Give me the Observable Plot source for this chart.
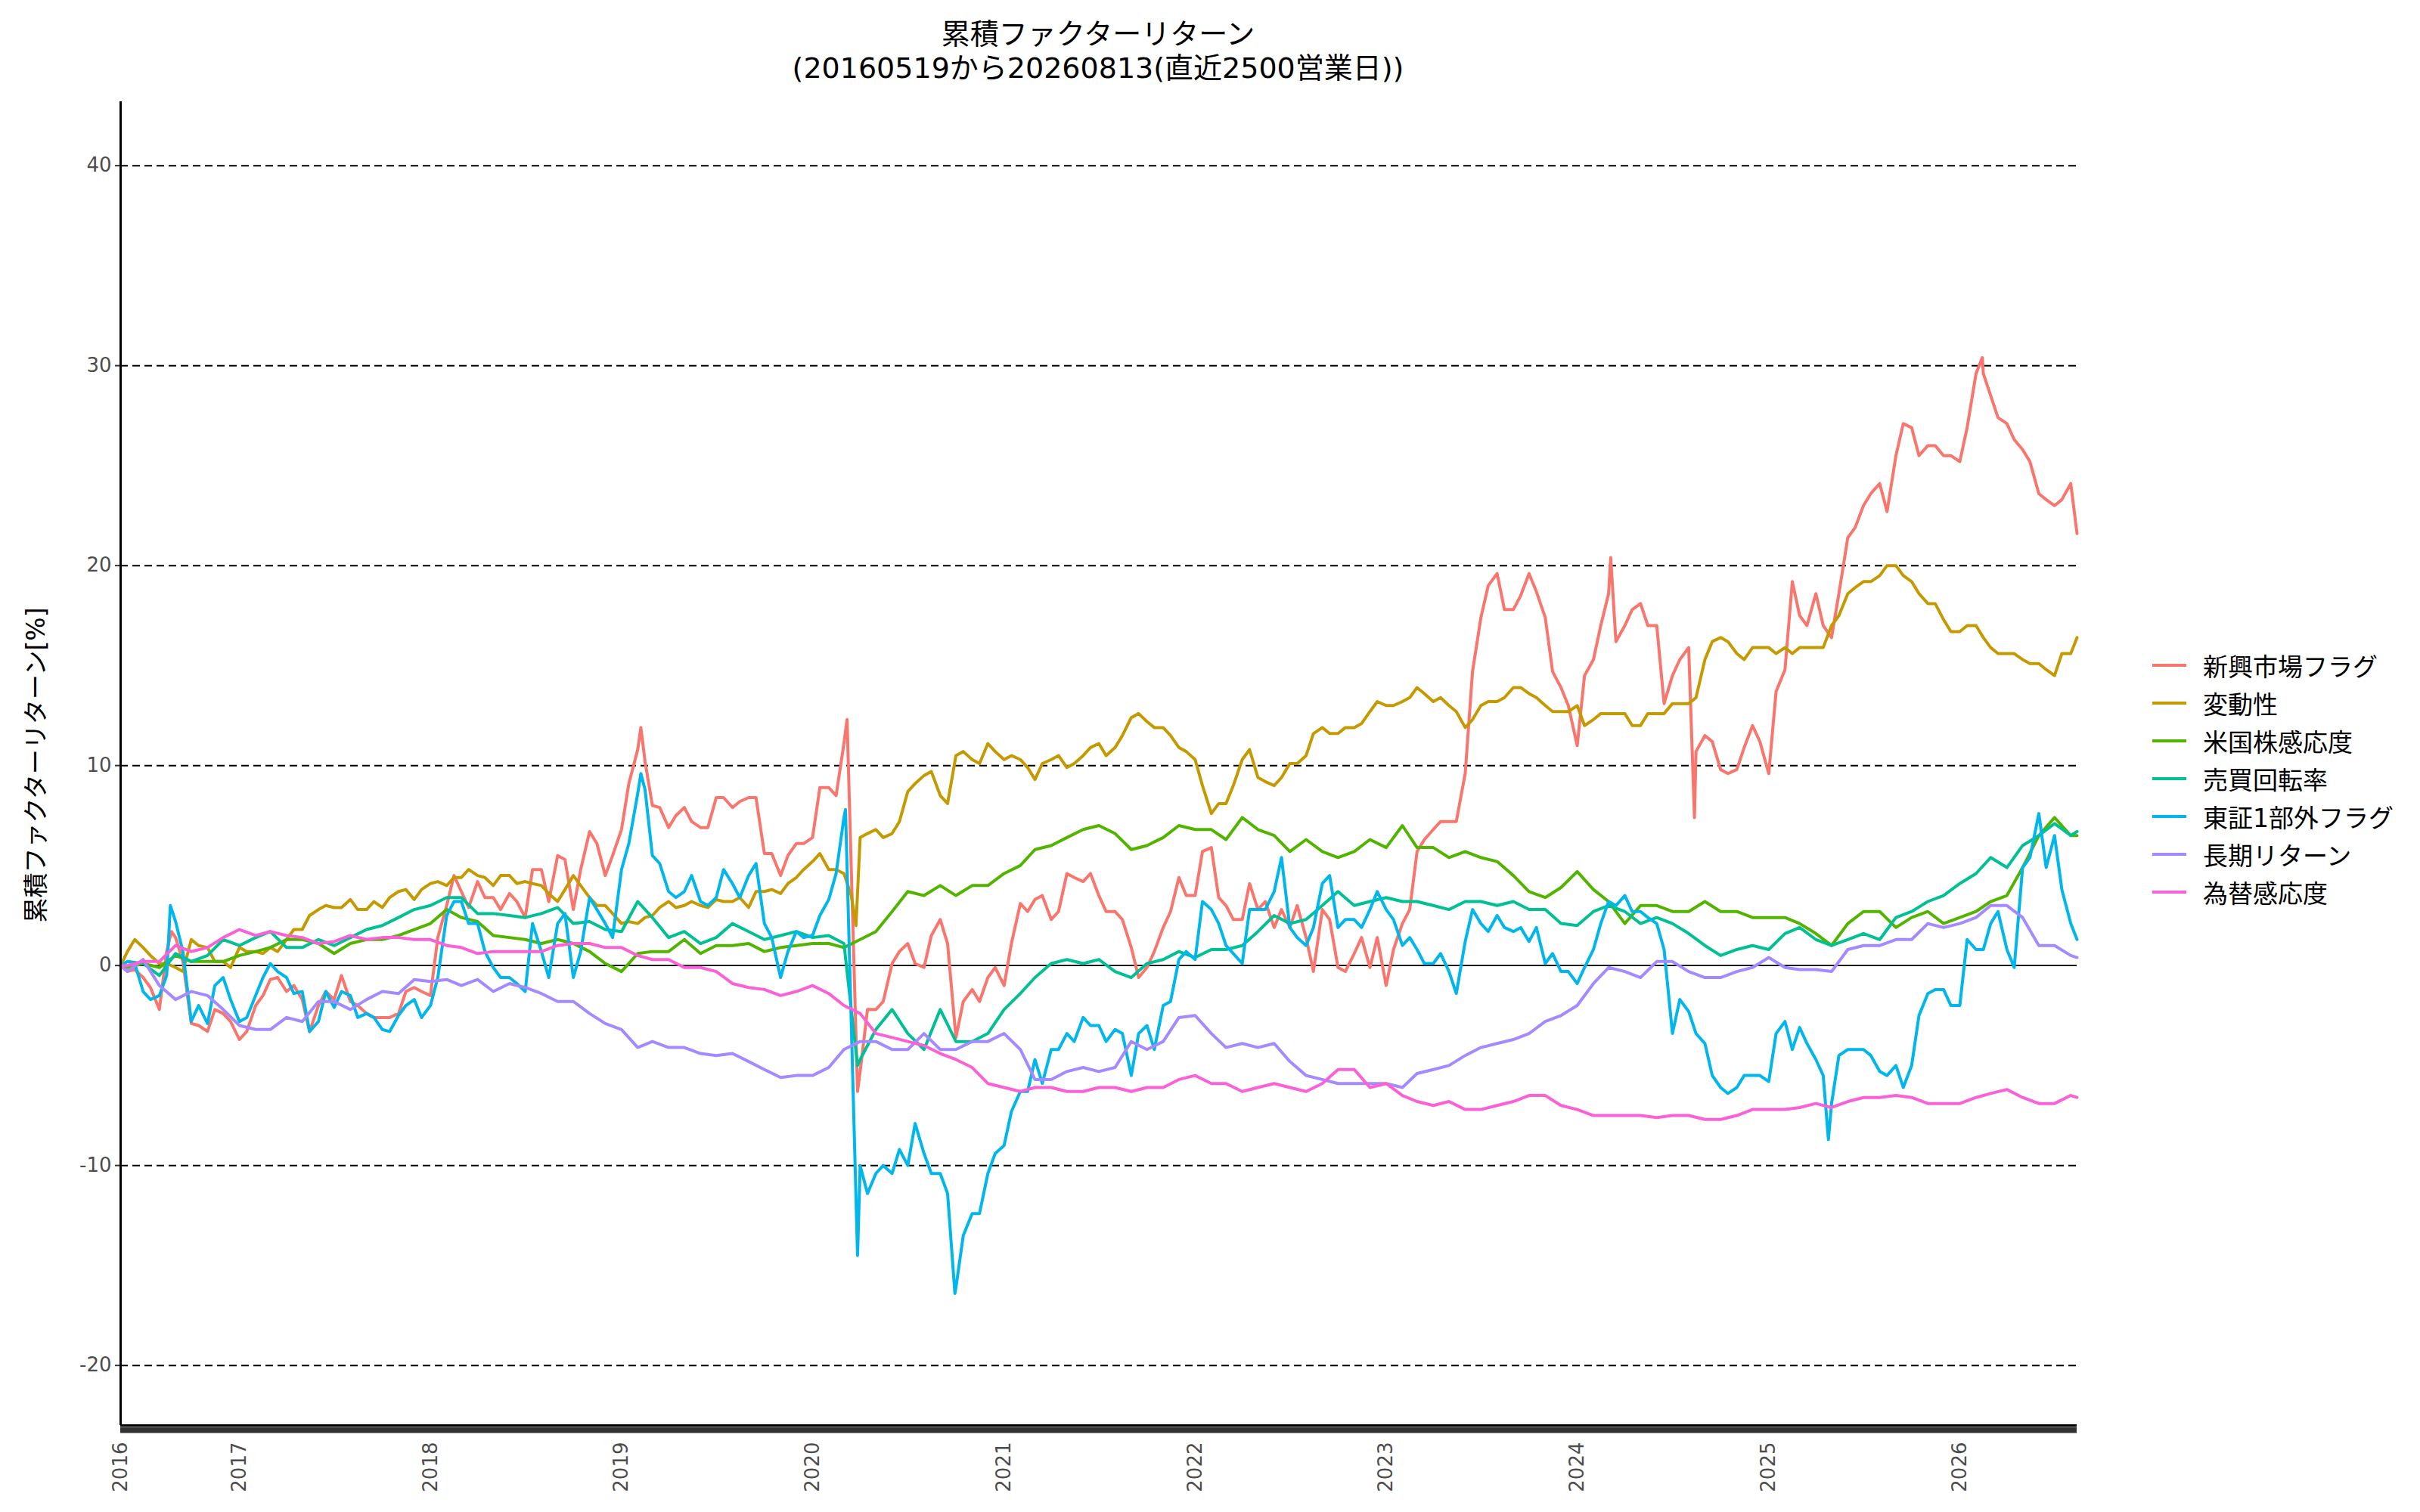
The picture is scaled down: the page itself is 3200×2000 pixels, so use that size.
<!DOCTYPE html>
<html>
<head>
<meta charset="utf-8">
<script src="https://cdn.jsdelivr.net/npm/d3@7"></script>
<script src="https://cdn.jsdelivr.net/npm/@observablehq/plot@0.6"></script>
<style>
  html, body { margin: 0; padding: 0; background: #ffffff; }
  #root { position: relative; width: 3200px; height: 2000px; background: #ffffff; overflow: hidden; }
  #title { position: absolute; left: 452px; width: 2000px; top: 23px; text-align: center; z-index: 2;
           font-family: "DejaVu Sans", "Noto Sans CJK JP", sans-serif; font-size: 38px; line-height: 45px; color: #000; }
  #ylabel { position: absolute; left: 45px; top: 1012px; transform: translate(-50%, -50%) rotate(-90deg); z-index: 2;
            white-space: nowrap; font-family: "DejaVu Sans", "Noto Sans CJK JP", sans-serif; font-size: 33px; color: #000; }
  #chart { position: absolute; left: 0; top: 120px; z-index: 1; }
  #legend { position: absolute; left: 2846px; top: 855px; z-index: 2; font-family: "DejaVu Sans", "Noto Sans CJK JP", sans-serif;
            font-size: 33px; color: #000; }
  .lrow { height: 50px; display: flex; align-items: center; }
  .lrow svg { margin-right: 22px; }
</style>
</head>
<body>
<div id="root">
  <div id="title"></div>
  <div id="ylabel"></div>
  <div id="chart"></div>
  <div id="legend"></div>
</div>
<script>
const titleLines = ["累積ファクターリターン", "(20160519から20260813(直近2500営業日))"];
const yAxisLabel = "累積ファクターリターン[%]";

const seriesNames = ["新興市場フラグ", "変動性", "米国株感応度", "売買回転率", "東証1部外フラグ", "長期リターン", "為替感応度"];
const seriesColors = ["#F8766D", "#C49A00", "#53B400", "#00C094", "#00B6EB", "#A58AFF", "#FB61D7"];

// month-start sampling dates
const dates = [
  "2016-05-19","2016-06-01","2016-07-01","2016-08-01","2016-09-01","2016-10-01","2016-11-01","2016-12-01",
  "2017-01-01","2017-02-01","2017-03-01","2017-04-01","2017-05-01","2017-06-01","2017-07-01","2017-08-01","2017-09-01","2017-10-01","2017-11-01","2017-12-01",
  "2018-01-01","2018-02-01","2018-03-01","2018-04-01","2018-05-01","2018-06-01","2018-07-01","2018-08-01","2018-09-01","2018-10-01","2018-11-01","2018-12-01",
  "2019-01-01","2019-02-01","2019-03-01","2019-04-01","2019-05-01","2019-06-01","2019-07-01","2019-08-01","2019-09-01","2019-10-01","2019-11-01","2019-12-01",
  "2020-01-01","2020-02-01","2020-03-01","2020-04-01","2020-05-01","2020-06-01","2020-07-01","2020-08-01","2020-09-01","2020-10-01","2020-11-01","2020-12-01",
  "2021-01-01","2021-02-01","2021-03-01","2021-04-01","2021-05-01","2021-06-01","2021-07-01","2021-08-01","2021-09-01","2021-10-01","2021-11-01","2021-12-01",
  "2022-01-01","2022-02-01","2022-03-01","2022-04-01","2022-05-01","2022-06-01","2022-07-01","2022-08-01","2022-09-01","2022-10-01","2022-11-01","2022-12-01",
  "2023-01-01","2023-02-01","2023-03-01","2023-04-01","2023-05-01","2023-06-01","2023-07-01","2023-08-01","2023-09-01","2023-10-01","2023-11-01","2023-12-01",
  "2024-01-01","2024-02-01","2024-03-01","2024-04-01","2024-05-01","2024-06-01","2024-07-01","2024-08-01","2024-09-01","2024-10-01","2024-11-01","2024-12-01",
  "2025-01-01","2025-02-01","2025-03-01","2025-04-01","2025-05-01","2025-06-01","2025-07-01","2025-08-01","2025-09-01","2025-10-01","2025-11-01","2025-12-01",
  "2026-01-01","2026-02-01","2026-03-01","2026-04-01","2026-05-01","2026-06-01","2026-07-01","2026-08-01","2026-08-13"
];

const emergingFlag = [
  0, -0.3, -0.6, -2.2, 1.4, -2.9, -3.3, -2.4,
  -3.7, -2.0, -0.7, -1.3, -1.7, -2.0, -1.7, -1.8, -2.4, -2.6, -2.4, -1.1,
  -1.5, 3.0, 3.7, 4.2, 3.4, 3.6, 2.4, 4.8, 5.5, 2.8, 6.7, 4.5,
  6.8, 10.8, 8.0, 6.9, 7.9, 6.9, 8.4, 7.9, 8.4, 5.6, 4.5, 6.1,
  6.4, 8.9, 11.1, -5.3, -2.2, 0.1, 1.1, -0.1, 2.3, -3.6, -1.2, -0.6,
  -1.0, 3.1, 3.3, 2.3, 4.6, 4.2, 3.5, 2.7, 0.9, -0.1, 1.9, 4.4,
  3.5, 5.9, 3.0, 2.3, 2.8, 1.9, 1.9, 1.4, 2.8, -0.1, 0.6, -0.1,
  -1.0, 2.1, 5.7, 6.8, 7.2, 9.6, 17.4, 19.6, 17.8, 19.6, 17.4, 13.9,
  11.0, 15.3, 18.6, 17.0, 18.1, 17.0, 14.5, 15.9, 11.5, 9.8, 9.8, 12.0,
  9.6, 14.8, 17.5, 18.6, 16.4, 21.4, 23.0, 24.1, 25.5, 26.9, 26.0, 25.5,
  25.2, 29.6, 28.5, 27.1, 25.8, 23.6, 23.0, 24.1, 21.6
];
const volatility = [
  0, 0.7, 0.9, 0.1, -0.1, 1.3, 0.9, 0.2,
  0.9, 0.7, 0.9, 1.3, 1.8, 2.8, 2.9, 3.3, 2.8, 2.9, 3.7, 3.3,
  4.1, 4.0, 4.4, 4.5, 4.0, 4.5, 4.2, 4.0, 3.2, 4.5, 3.4, 3.0,
  2.1, 2.1, 2.5, 3.2, 3.0, 3.0, 3.3, 3.2, 2.9, 3.7, 3.6, 4.4,
  5.2, 4.8, 4.6, 6.4, 6.8, 6.6, 8.7, 9.5, 8.5, 10.5, 10.3, 11.1,
  10.3, 10.3, 9.3, 10.3, 9.9, 10.5, 11.1, 10.9, 12.4, 12.2, 11.9, 10.9,
  10.3, 7.6, 8.1, 10.3, 9.4, 9.0, 10.1, 10.5, 11.9, 11.6, 11.9, 12.7,
  13.0, 13.2, 13.9, 13.2, 13.0, 11.9, 13.0, 13.2, 13.9, 13.6, 13.0, 12.7,
  13.0, 12.3, 12.6, 12.6, 12.0, 12.6, 13.1, 13.1, 15.3, 16.4, 15.6, 15.9,
  15.9, 15.9, 15.9, 15.9, 17.0, 18.6, 19.2, 19.5, 20.0, 19.2, 18.1, 17.3,
  16.7, 17.0, 15.9, 15.6, 15.3, 15.1, 14.5, 15.6, 16.4
];
const usSensitivity = [
  0, -0.1, 0.1, -0.1, 0.5, 0.2, 0.2, 0.2,
  0.5, 0.7, 0.9, 1.3, 1.3, 1.1, 0.6, 1.1, 1.3, 1.3, 1.5, 1.8,
  2.1, 2.8, 2.4, 2.2, 1.5, 1.4, 1.3, 1.1, 1.3, 1.1, 0.7, 0.1,
  -0.3, 0.6, 0.7, 0.7, 1.3, 0.6, 1.0, 1.0, 1.1, 0.7, 0.9, 1.0,
  1.1, 1.1, 0.9, 1.3, 1.7, 2.7, 3.7, 3.5, 4.0, 3.5, 4.0, 4.0,
  4.6, 5.0, 5.8, 6.0, 6.4, 6.8, 7.0, 6.6, 5.8, 6.0, 6.4, 7.0,
  6.8, 6.8, 6.3, 7.4, 6.8, 6.5, 5.7, 6.3, 5.7, 5.4, 5.7, 6.3,
  5.9, 7.0, 5.9, 5.9, 5.4, 5.7, 5.4, 5.2, 4.5, 3.7, 3.4, 3.9,
  4.7, 3.8, 3.2, 2.1, 3.0, 3.0, 2.7, 2.7, 3.2, 2.7, 2.7, 2.4,
  2.4, 2.4, 2.1, 1.6, 1.0, 2.1, 2.7, 2.7, 1.9, 2.4, 2.7, 2.1,
  2.4, 2.7, 3.2, 3.5, 4.9, 6.5, 7.4, 6.5, 6.5
];
const turnover = [
  0, 0.2, 0.1, -0.5, 0.6, 0.2, 0.5, 1.3,
  1.0, 1.4, 1.7, 0.9, 0.9, 1.3, 1.0, 1.4, 1.8, 2.0, 2.4, 2.8,
  3.0, 3.4, 3.4, 2.6, 2.6, 2.5, 2.4, 2.6, 2.9, 2.1, 2.2, 1.8,
  1.7, 3.2, 2.4, 1.4, 1.7, 1.1, 1.4, 2.1, 1.7, 1.3, 1.5, 1.7,
  1.4, 1.5, 1.1, -4.7, -3.2, -2.2, -3.4, -4.2, -2.2, -3.8, -3.8, -3.4,
  -2.2, -1.4, -0.6, 0.1, 0.3, 0.1, 0.3, -0.3, -0.6, 0.1, 0.3, 0.7,
  0.4, 0.8, 0.8, 1.0, 1.7, 2.5, 2.1, 2.3, 3.0, 3.7, 3.0, 3.2,
  3.4, 3.2, 3.2, 3.0, 2.8, 3.2, 3.2, 3.0, 3.2, 2.8, 2.8, 2.1,
  2.0, 2.7, 3.0, 2.7, 2.1, 2.4, 2.1, 1.6, 1.0, 0.5, 0.8, 1.0,
  0.8, 1.6, 1.9, 1.3, 1.0, 1.3, 1.6, 1.3, 2.4, 2.7, 3.2, 3.5,
  4.1, 4.6, 5.4, 4.9, 6.0, 6.5, 7.1, 6.5, 6.7
];
const nonTse1Flag = [
  0, 0.2, -1.3, -1.5, 2.2, -2.8, -2.9, -0.6,
  -2.8, -1.5, 0.1, -0.6, -1.3, -2.8, -2.1, -1.5, -2.4, -3.2, -2.5, -1.7,
  -2.0, 2.5, 3.2, 2.1, -0.1, -0.6, -1.3, 0.7, 2.1, -0.6, 3.4, 2.1,
  4.8, 8.6, 5.5, 3.7, 3.7, 3.2, 3.4, 4.1, 4.5, 2.1, -0.6, 1.7,
  1.5, 3.3, 7.4, -10.0, -10.4, -10.4, -10.0, -9.4, -10.4, -16.1, -12.4, -10.4,
  -9.0, -6.3, -4.7, -4.2, -3.4, -2.6, -3.0, -3.2, -5.5, -3.0, -2.0, 0.3,
  0.3, 2.8, 1.0, 0.1, 2.8, 3.7, 1.9, 1.0, 4.1, 1.9, 2.3, 2.8,
  2.8, 1.0, 0.8, 0.1, -0.3, 1.2, 2.1, 2.5, 1.7, 1.2, 0.1, -0.3,
  -0.9, 0.8, 3.2, 3.5, 2.7, 2.1, -3.4, -2.3, -3.9, -6.1, -6.1, -5.5,
  -5.8, -2.8, -3.1, -4.7, -6.9, -4.2, -4.2, -5.3, -5.0, -5.0, -1.4, -1.2,
  -2.0, 0.8, 2.1, 0.8, 4.9, 7.6, 6.5, 2.1, 1.3
];
const longTermReturn = [
  0, -0.3, 0.3, -1.0, -1.7, -1.3, -1.5, -2.2,
  -3.0, -3.2, -3.2, -2.6, -2.8, -1.8, -1.8, -2.2, -1.7, -1.3, -1.4, -0.7,
  -0.8, -0.7, -1.0, -0.7, -1.3, -0.9, -1.1, -1.4, -1.8, -1.8, -2.4, -2.9,
  -3.2, -4.1, -3.8, -4.1, -4.1, -4.4, -4.5, -4.4, -4.8, -5.2, -5.6, -5.5,
  -5.5, -5.1, -4.2, -3.8, -3.8, -4.2, -4.2, -3.4, -4.2, -4.2, -3.8, -3.8,
  -3.4, -4.2, -5.7, -5.7, -5.3, -5.1, -5.3, -5.1, -3.8, -4.2, -3.8, -2.6,
  -2.5, -3.4, -4.1, -3.9, -4.1, -3.9, -4.8, -5.5, -5.7, -5.9, -5.9, -5.9,
  -5.9, -6.1, -5.4, -5.2, -5.0, -4.5, -4.1, -3.9, -3.7, -3.4, -2.8, -2.5,
  -2.0, -0.9, -0.1, -0.3, -0.6, 0.2, 0.2, -0.3, -0.6, -0.6, -0.3, -0.1,
  0.4, -0.1, -0.2, -0.2, -0.3, 0.8, 1.0, 1.0, 1.3, 1.3, 2.1, 1.9,
  2.1, 2.4, 3.0, 3.0, 2.4, 1.0, 1.0, 0.5, 0.4
];
const fxSensitivity = [
  0, 0, 0.2, 0.2, 1.0, 0.7, 0.9, 1.4,
  1.8, 1.5, 1.7, 1.5, 1.4, 1.1, 1.2, 1.5, 1.3, 1.4, 1.4, 1.3,
  1.3, 1.0, 0.9, 0.6, 0.7, 0.7, 0.7, 0.7, 1.0, 1.1, 1.1, 0.9,
  0.9, 0.5, 0.3, 0.3, -0.1, -0.1, -0.3, -0.9, -1.1, -1.2, -1.5, -1.3,
  -1.0, -1.4, -2.0, -2.4, -3.4, -3.6, -3.8, -4.0, -4.4, -4.7, -5.1, -5.9,
  -6.1, -6.3, -6.1, -6.1, -6.3, -6.3, -6.1, -6.1, -6.3, -6.1, -6.1, -5.7,
  -5.5, -5.9, -5.9, -6.3, -6.1, -5.9, -6.1, -6.3, -5.9, -5.2, -5.2, -6.1,
  -5.9, -6.5, -6.8, -7.0, -6.8, -7.2, -7.2, -7.0, -6.8, -6.5, -6.5, -7.0,
  -7.2, -7.5, -7.5, -7.5, -7.5, -7.6, -7.5, -7.5, -7.7, -7.7, -7.5, -7.2,
  -7.2, -7.2, -7.1, -6.9, -7.1, -6.8, -6.6, -6.6, -6.5, -6.6, -6.9, -6.9,
  -6.9, -6.6, -6.4, -6.2, -6.6, -6.9, -6.9, -6.5, -6.6
];

// mid-month readings for the most volatile series (null = not read)
const midDates = [
  "2016-06-15","2016-07-15","2016-08-15","2016-09-15","2016-10-15","2016-11-15","2016-12-15",
  "2017-01-15","2017-02-15","2017-03-15","2017-04-15","2017-05-15","2017-06-15","2017-07-15","2017-08-15","2017-09-15","2017-10-15","2017-11-15","2017-12-15",
  "2018-01-15","2018-02-15","2018-03-15","2018-04-15","2018-05-15","2018-06-15","2018-07-15","2018-08-15","2018-09-15","2018-10-15","2018-11-15","2018-12-15",
  "2019-01-15","2019-02-15","2019-03-15","2019-04-15","2019-05-15","2019-06-15","2019-07-15","2019-08-15","2019-09-15","2019-10-15","2019-11-15","2019-12-15",
  "2020-01-15","2020-02-15","2020-03-15","2020-04-15","2020-05-15","2020-06-15","2020-07-15","2020-08-15","2020-09-15","2020-10-15","2020-11-15","2020-12-15",
  "2021-01-15","2021-02-15","2021-03-15","2021-04-15","2021-05-15","2021-06-15","2021-07-15","2021-08-15","2021-09-15","2021-10-15","2021-11-15","2021-12-15",
  "2022-01-15","2022-02-15","2022-03-15","2022-04-15","2022-05-15","2022-06-15","2022-07-15","2022-08-15","2022-09-15","2022-10-15","2022-11-15","2022-12-15",
  "2023-01-15","2023-02-15","2023-03-15","2023-04-15","2023-05-15","2023-06-15","2023-07-15","2023-08-15","2023-09-15","2023-10-15","2023-11-15","2023-12-15",
  "2024-01-15","2024-02-15","2024-03-15","2024-04-15","2024-05-15","2024-06-15","2024-07-15","2024-08-15","2024-09-15","2024-10-15","2024-11-15","2024-12-15",
  "2025-01-15","2025-02-15","2025-03-15","2025-04-15","2025-05-15","2025-06-15","2025-07-15","2025-08-15","2025-09-15","2025-10-15","2025-11-15","2025-12-15",
  "2026-01-15","2026-02-15","2026-03-15","2026-04-15","2026-05-15","2026-06-15","2026-07-15"
];
const emergingFlagMid = [
  -0.2, -1.1, 0.7, 0.2, -3.0, -2.2, -2.8,
  -3.3, -1.5, -0.6, -1.0, -3.3, -1.3, -0.5, -2.0, -2.6, -2.6, -1.3, -1.3,
  1.4, 4.5, 2.9, 3.4, 2.8, 3.2, 4.8, 3.2, 5.3, 4.8, 6.1, 5.5,
  9.1, 10.2, 7.9, 7.5, 7.2, 6.9, 8.4, 8.2, 8.4, 5.6, 5.5, 6.1,
  8.9, 8.5, null, -2.2, -1.8, 0.7, 0.1, 1.5, 1.1, -1.8, -1.8, -0.1,
  1.1, 2.7, 3.5, 2.7, 4.4, 4.6, 2.7, 2.3, -0.6, 0.7, 2.7, 3.5,
  5.7, 3.4, 2.3, 4.1, 3.2, 2.8, 3.0, -0.3, 2.3, -0.3, 1.4, 1.4,
  0.8, 2.8, 6.3, 7.2, 7.2, 14.7, 19.0, 17.8, 18.5, 18.7, 14.7, 13.0,
  14.5, 17.0, 16.2, 17.8, 17.0, 13.1, 15.3, 10.7, 11.2, 9.6, 10.9, 11.2,
  13.7, 19.2, 17.0, 17.0, 18.6, 21.9, 23.6, 22.7, 27.1, 25.5, 26.0, 25.5,
  26.9, 29.6, 27.4, 26.3, 25.2, 23.3, 23.3
];
const volatilityMid = [
  1.3, 0.5, 0.1, -0.3, 1.0, 0.2, -0.1,
  0.7, 0.6, 0.7, 1.8, 2.5, 3.0, 2.9, 2.8, 3.2, 3.4, 3.8, 3.8,
  4.2, 4.4, 4.8, 4.4, 4.5, 4.1, 4.1, 3.6, 3.8, 4.0, 3.0, 2.6,
  2.2, 2.4, 2.9, 2.9, 3.2, 2.9, 3.2, 3.4, 3.7, 3.8, 4.1, 4.8,
  5.6, 4.8, 3.5, 6.6, 6.4, 7.2, 9.1, 9.7, 8.1, 10.7, 10.1, 10.7,
  10.5, 9.9, 10.1, 10.5, 10.1, 10.9, 10.5, 11.5, 12.6, 11.9, 11.5, 10.7,
  9.0, 8.1, 9.0, 10.8, 9.2, 9.4, 10.1, 11.6, 11.6, 11.9, 12.1, 13.2,
  13.0, 13.4, 13.6, 13.4, 12.7, 12.3, 13.2, 13.4, 13.9, 13.4, 12.7, 12.7,
  12.0, 12.6, 12.6, 12.0, 12.6, 12.6, 13.1, 13.4, 16.2, 16.2, 15.3, 15.9,
  15.6, 15.6, 15.9, 15.9, 17.5, 18.9, 19.2, 20.0, 19.5, 18.6, 18.1, 16.7,
  17.0, 16.4, 15.6, 15.6, 15.1, 14.8, 15.6
];
const nonTse1FlagMid = [
  0.1, -1.7, -0.5, 0.7, -2.0, -1.0, -1.7,
  -2.6, -0.6, -0.3, -1.4, -3.3, -1.3, -1.3, -2.6, -2.6, -3.3, -2.0, -2.6,
  -0.6, 3.2, 2.1, 0.7, -0.6, -0.9, 2.1, -0.6, 2.6, 0.7, 2.8, 1.4,
  6.1, 8.8, 5.1, 3.4, 4.5, 3.0, 4.8, 3.4, 5.1, 1.4, 0.7, 1.4,
  2.5, 4.6, null, -11.4, -10.0, -9.2, -7.9, -10.4, -11.4, -13.5, -12.4, -9.4,
  -7.3, -6.3, -5.9, -4.2, -3.8, -3.0, -3.8, -3.4, -3.4, -4.2, -1.8, 0.7,
  3.2, 2.1, 0.6, 2.8, 2.8, 5.4, 1.4, 1.9, 4.5, 2.3, 1.9, 3.7,
  2.3, 1.4, 0.1, 0.6, -1.4, 2.8, 1.7, 1.9, 1.9, 1.9, 0.6, -0.3,
  -0.1, 2.1, 3.0, 2.7, 2.4, 0.8, -1.7, -3.4, -5.5, -6.4, -5.5, -5.5,
  -3.4, -4.2, -3.9, -5.5, -4.5, -4.2, -4.5, -5.5, -6.1, -2.5, -1.2, -2.0,
  1.3, 0.8, 2.7, -0.1, 5.4, 4.9, 3.8
];

// extra points read at the sharpest peaks and troughs
const extraPoints = [
  ["新興市場フラグ", "2016-08-24", 1.7],
  ["新興市場フラグ", "2019-02-07", 11.9],
  ["新興市場フラグ", "2020-03-07", 12.3],
  ["新興市場フラグ", "2020-03-27", -6.3],
  ["新興市場フラグ", "2024-03-05", 20.4],
  ["新興市場フラグ", "2024-08-12", 7.4],
  ["新興市場フラグ", "2026-02-13", 30.4],
  ["変動性", "2020-03-24", 2.0],
  ["売買回転率", "2020-03-27", -5.0],
  ["東証1部外フラグ", "2016-08-22", 3.0],
  ["東証1部外フラグ", "2019-02-07", 9.6],
  ["東証1部外フラグ", "2020-03-04", 7.8],
  ["東証1部外フラグ", "2020-03-27", -14.5],
  ["東証1部外フラグ", "2020-09-29", -16.4],
  ["東証1部外フラグ", "2025-04-25", -8.7]
];

const yTicks = [-20, -10, 0, 10, 20, 30, 40];
const gridLines = [-20, -10, 10, 20, 30, 40];
const xTickDates = ["2016-05-19","2017-01-01","2018-01-01","2019-01-01","2020-01-01","2021-01-01","2022-01-01","2023-01-01","2024-01-01","2025-01-01","2026-01-01"];
const xTickLabels = ["2016","2017","2018","2019","2020","2021","2022","2023","2024","2025","2026"];
const xDomain = ["2016-05-19", "2026-08-13"];
const yDomain = [-23.0, 43.2];

const seriesValues = [emergingFlag, volatility, usSensitivity, turnover, nonTse1Flag, longTermReturn, fxSensitivity];
const seriesMid = {"新興市場フラグ": emergingFlagMid, "変動性": volatilityMid, "東証1部外フラグ": nonTse1FlagMid};

const rows = [];
seriesNames.forEach((name, k) => {
  const pts = dates.map((d, i) => ({series: name, date: new Date(d), value: seriesValues[k][i]}));
  if (seriesMid[name]) {
    midDates.forEach((d, i) => {
      const v = seriesMid[name][i];
      if (v !== null) pts.push({series: name, date: new Date(d), value: v});
    });
  }
  extraPoints.filter(e => e[0] === name).forEach(e => pts.push({series: name, date: new Date(e[1]), value: e[2]}));
  pts.sort((a, b) => a.date - b.date);
  rows.push(...pts);
});

const labelOf = new Map(xTickDates.map((d, i) => [+new Date(d), xTickLabels[i]]));

const chart = Plot.plot({
  width: 2760,
  height: 1870,
  marginLeft: 159,
  marginRight: 14,
  marginTop: 14,
  marginBottom: 105,
  style: {fontFamily: "DejaVu Sans, sans-serif", fontSize: "26px", background: "#ffffff", overflow: "visible"},
  x: {type: "utc", domain: xDomain.map(d => new Date(d)), label: null},
  y: {domain: yDomain, label: null},
  color: {domain: seriesNames, range: seriesColors},
  marks: [
    Plot.ruleY(gridLines, {stroke: "#000", strokeWidth: 2, strokeDasharray: "10,6"}),
    Plot.ruleY([0], {stroke: "#000", strokeWidth: 1.6}),
    Plot.lineY(rows, {x: "date", y: "value", z: "series", stroke: "series", strokeWidth: 4, strokeLinejoin: "round"}),
    Plot.axisY({ticks: yTicks, tickFormat: d => String(d), tickSize: 7, tickPadding: 5, stroke: "#333", strokeWidth: 2, fill: "#4D4D4D", fontSize: 26, label: null}),
    Plot.axisX({ticks: xTickDates.map(d => new Date(d)), tickFormat: d => labelOf.get(+d), tickRotate: -90, tickSize: 0, tickPadding: 22, fill: "#4D4D4D", fontSize: 26, label: null}),
    Plot.ruleY([yDomain[0]], {stroke: "#333", strokeWidth: 8, dy: 6}),
    Plot.ruleY([yDomain[0]], {stroke: "#000", strokeWidth: 3}),
    Plot.ruleX([new Date(xDomain[0])], {stroke: "#000", strokeWidth: 3})
  ]
});
document.getElementById("chart").appendChild(chart);

document.getElementById("title").innerHTML = titleLines.map(t => `<div>${t}</div>`).join("");
document.getElementById("ylabel").textContent = yAxisLabel;

const legend = document.getElementById("legend");
seriesNames.forEach((name, k) => {
  const row = document.createElement("div");
  row.className = "lrow";
  row.innerHTML = `<svg width="45" height="10"><line x1="0" x2="45" y1="5" y2="5" stroke="${seriesColors[k]}" stroke-width="4"/></svg><span>${name}</span>`;
  legend.appendChild(row);
});
</script>
</body>
</html>
